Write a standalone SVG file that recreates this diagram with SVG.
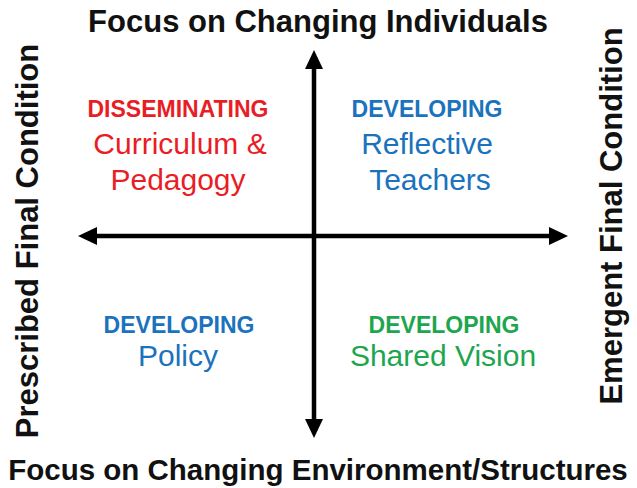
<svg xmlns="http://www.w3.org/2000/svg" width="637" height="488" viewBox="0 0 637 488">
<style>
  text { font-family: "Liberation Sans", Arial, sans-serif; text-anchor: middle; }
  .title { font-size: 31px; font-weight: bold; fill: #111; }
  .head { font-size: 23px; font-weight: bold; }
  .body { font-size: 30px; }
  .red { fill: #e81d25; }
  .blue { fill: #1b72bd; }
  .green { fill: #1ea64f; }
  .axis { stroke: #000; stroke-width: 4.5; fill: none; }
</style>
<defs>
  <marker id="arrow" markerUnits="userSpaceOnUse" markerWidth="21" markerHeight="19" refX="6" refY="9" orient="auto-start-reverse" viewBox="0 0 21 18">
    <path d="M0,0 L19,9 L0,18 z" fill="#000"/>
  </marker>
</defs>
<rect width="637" height="488" fill="#fff"/>
<g id="connectors">
  <line class="axis" x1="314" y1="63" x2="314" y2="425" marker-start="url(#arrow)" marker-end="url(#arrow)"/>
  <line class="axis" x1="91" y1="236" x2="555" y2="236" marker-start="url(#arrow)" marker-end="url(#arrow)"/>
</g>
<g id="top-label"><text class="title" x="318" y="32">Focus on Changing Individuals</text></g>
<g id="bottom-label"><text class="title" x="318" y="480" style="font-size:29.5px">Focus on Changing Environment/Structures</text></g>
<g id="left-label"><text class="title" transform="translate(38,241) rotate(-90)">Prescribed Final Condition</text></g>
<g id="right-label"><text class="title" transform="translate(622,216) rotate(-90)">Emergent Final Condition</text></g>
<g id="q-top-left">
  <text class="head red" x="178" y="117">DISSEMINATING</text>
  <text class="body red" x="180" y="154">Curriculum &amp;</text>
  <text class="body red" x="178" y="190">Pedagogy</text>
</g>
<g id="q-top-right">
  <text class="head blue" x="427" y="117">DEVELOPING</text>
  <text class="body blue" x="427" y="154">Reflective</text>
  <text class="body blue" x="430" y="190">Teachers</text>
</g>
<g id="q-bottom-left">
  <text class="head blue" x="179" y="333">DEVELOPING</text>
  <text class="body blue" x="178" y="366">Policy</text>
</g>
<g id="q-bottom-right">
  <text class="head green" x="444" y="333">DEVELOPING</text>
  <text class="body green" x="443" y="366">Shared Vision</text>
</g>
</svg>
